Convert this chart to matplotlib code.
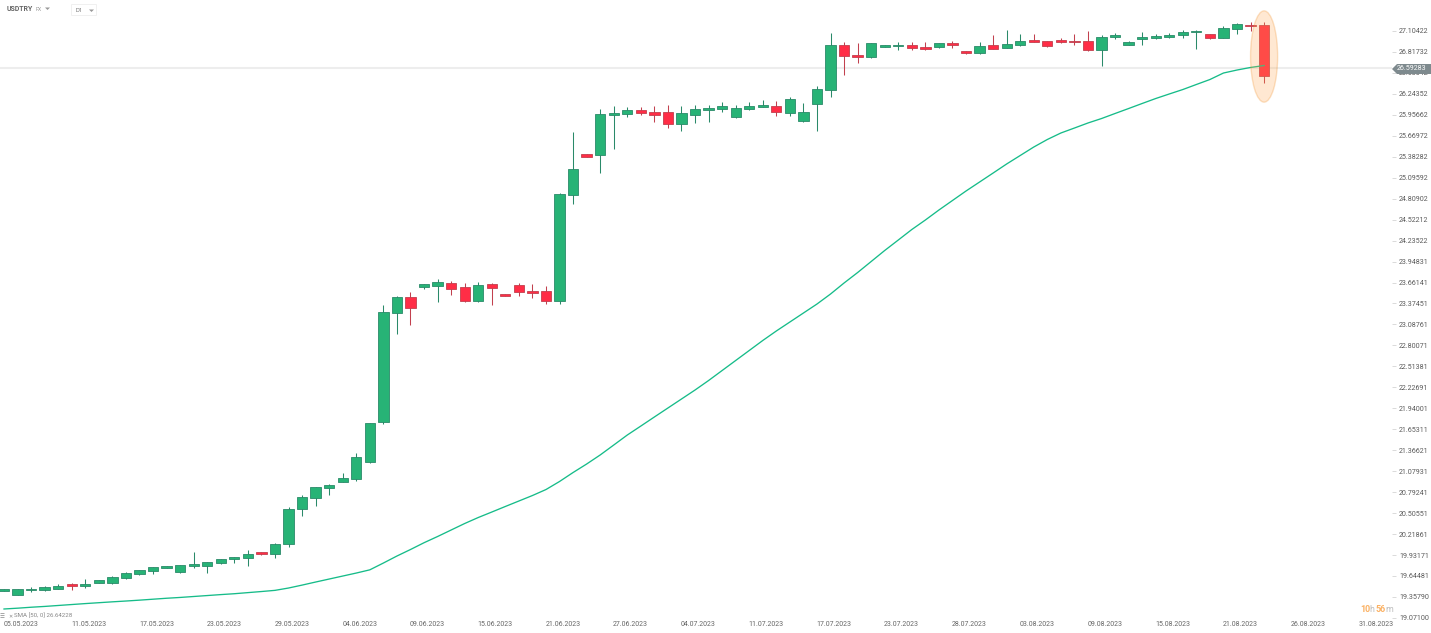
import matplotlib
matplotlib.use("Agg")
import matplotlib.pyplot as plt
from matplotlib.patches import Ellipse, Rectangle, Polygon

plt.rcParams["font.family"] = "Roboto"

opens = [19.443,19.388,19.453,19.453,19.466,19.535,19.511,19.552,19.552,19.617,
 19.676,19.717,19.758,19.695,19.785,19.785,19.818,19.877,19.895,19.968,
 19.949,20.078,20.557,20.712,20.845,20.935,20.972,21.209,21.756,23.244,
 23.463,23.596,23.618,23.655,23.600,23.408,23.637,23.504,23.627,23.545,
 23.545,23.408,24.863,25.416,25.411,25.954,25.968,26.019,25.995,26.000,
 25.831,25.954,26.023,26.032,25.931,26.032,26.068,26.078,25.978,25.868,
 26.109,26.301,26.917,26.776,26.752,26.889,26.899,26.917,26.885,26.881,
 26.940,26.830,26.807,26.908,26.876,26.917,26.981,26.967,26.981,26.971,
 26.971,26.840,27.026,26.917,26.991,27.012,27.026,27.054,27.086,27.063,
 27.012,27.136,27.190,27.190]
closes = [19.470,19.470,19.470,19.489,19.507,19.511,19.535,19.585,19.635,19.689,
 19.726,19.763,19.777,19.791,19.805,19.832,19.873,19.900,19.941,19.945,
 20.078,20.557,20.721,20.858,20.886,20.982,21.269,21.739,23.258,23.463,
 23.317,23.637,23.664,23.577,23.408,23.632,23.586,23.477,23.532,23.522,
 23.408,24.873,25.211,25.379,25.968,25.982,26.019,25.982,25.954,25.831,
 25.978,26.037,26.054,26.073,26.046,26.078,26.091,25.995,26.169,25.995,
 26.310,26.917,26.766,26.752,26.936,26.913,26.917,26.876,26.862,26.936,
 26.917,26.807,26.895,26.862,26.930,26.967,26.958,26.903,26.958,26.949,
 26.840,27.022,27.049,26.949,27.026,27.036,27.049,27.086,27.104,27.012,
 27.141,27.196,27.173,26.492]
highs = [19.470,19.470,19.498,19.507,19.535,19.544,19.599,19.590,19.641,19.699,
 19.730,19.768,19.784,19.795,19.969,19.836,19.877,19.904,20.000,19.977,
 20.092,20.585,20.753,20.865,20.904,21.050,21.332,21.743,23.354,23.477,
 23.527,23.641,23.710,23.682,23.651,23.668,23.651,23.507,23.655,23.641,
 23.614,24.880,25.722,25.421,26.037,26.078,26.060,26.060,26.078,26.091,
 26.073,26.091,26.091,26.128,26.091,26.128,26.160,26.146,26.197,26.115,
 26.351,27.081,26.949,26.936,26.940,26.915,26.949,26.949,26.949,26.944,
 26.967,26.833,26.954,27.049,27.118,27.063,27.063,26.970,27.004,27.063,
 27.104,27.049,27.081,26.967,27.090,27.059,27.073,27.118,27.118,27.066,
 27.173,27.210,27.223,27.223]
lows = [19.443,19.388,19.421,19.439,19.466,19.453,19.484,19.548,19.539,19.610,
 19.658,19.672,19.754,19.692,19.758,19.685,19.815,19.818,19.785,19.938,
 19.895,20.045,20.466,20.602,20.753,20.931,20.949,21.195,21.725,22.957,
 23.080,23.577,23.395,23.491,23.401,23.401,23.354,23.474,23.477,23.445,
 23.371,23.371,24.736,25.377,25.156,25.485,25.923,25.958,25.863,25.781,
 25.735,25.845,25.859,25.995,25.913,26.023,26.064,25.941,25.945,25.865,
 25.740,26.201,26.502,26.666,26.735,26.885,26.848,26.844,26.840,26.871,
 26.876,26.785,26.785,26.859,26.873,26.899,26.955,26.889,26.944,26.917,
 26.830,26.629,26.999,26.913,26.917,26.991,27.008,27.008,26.858,26.991,
 27.008,27.059,27.108,26.388]
sma = [19.193,19.204,19.217,19.228,19.241,19.254,19.267,19.279,19.291,19.302,
 19.314,19.327,19.340,19.351,19.364,19.377,19.390,19.402,19.417,19.432,
 19.448,19.480,19.520,19.562,19.603,19.644,19.685,19.729,19.822,19.918,
 20.007,20.100,20.185,20.274,20.363,20.445,20.520,20.596,20.671,20.746,
 20.828,20.938,21.061,21.177,21.301,21.437,21.574,21.697,21.821,21.944,
 22.067,22.190,22.320,22.457,22.594,22.731,22.868,22.998,23.121,23.244,
 23.367,23.504,23.655,23.798,23.949,24.100,24.243,24.387,24.517,24.654,
 24.784,24.914,25.037,25.160,25.284,25.400,25.516,25.619,25.708,25.776,
 25.845,25.906,25.975,26.043,26.112,26.180,26.242,26.303,26.372,26.440,
 26.529,26.570,26.605,26.632]
price_ticks = ["27.10422","26.81732","26.53042","26.24352","25.95662","25.66972","25.38282",
 "25.09592","24.80902","24.52212","24.23522","23.94831","23.66141","23.37451","23.08761",
 "22.80071","22.51381","22.22691","21.94001","21.65311","21.36621","21.07931","20.79241",
 "20.50551","20.21861","19.93171","19.64481","19.35790","19.07100"]
date_labels = ["05.05.2023","11.05.2023","17.05.2023","23.05.2023","29.05.2023","04.06.2023",
 "09.06.2023","15.06.2023","21.06.2023","27.06.2023","04.07.2023","11.07.2023","17.07.2023",
 "23.07.2023","28.07.2023","03.08.2023","09.08.2023","15.08.2023","21.08.2023","26.08.2023",
 "31.08.2023"]
date_positions = [1.25,6.25,11.25,16.25,21.25,26.25,31.25,36.25,41.25,46.25,51.25,56.25,61.25,
 66.25,71.25,76.25,81.25,86.25,91.25,96.25,101.25]
last_price = 26.59283

W, H = 1431, 633
fig = plt.figure(figsize=(W/100, H/100), dpi=100, facecolor="white")
ax = fig.add_axes([0, 1-619/H, 1392/W, 619/H])
ax.set_xlim(-0.295, 102.44)
ax.set_ylim(19.056, 27.5285)
for s in ax.spines.values():
    s.set_visible(False)

GREEN, GREEN_D = "#27B376", "#2A8A69"
RED, RED_D = "#FF2D46", "#C2404E"
idx = range(len(opens))
ax.axhline(last_price, color="#EDEDED", lw=1.5, zorder=1)
for i in idx:
    up = closes[i] >= opens[i]
    ax.vlines(i, lows[i], highs[i], color=GREEN_D if up else RED_D, lw=0.75, zorder=2)
    ax.bar(i, abs(closes[i]-opens[i]), bottom=min(opens[i], closes[i]), width=0.76,
           color=GREEN if up else RED, edgecolor=GREEN_D if up else RED_D, linewidth=0.6, zorder=3)
ax.plot(list(idx), sma, color="#16BC89", lw=0.95, zorder=4)
ax.add_patch(Ellipse((93, 26.755), 2.0, 1.25, facecolor="#FFA64D", edgecolor="#F08A1E",
                     alpha=0.25, lw=1.0, zorder=5))

ax.yaxis.tick_right()
ax.set_yticks([float(t) for t in price_ticks])
ax.set_yticklabels(price_ticks)
ax.tick_params(axis="y", length=3, width=0.6, color="#D5D5D5", pad=2, labelsize=5.1, labelcolor="#5A5A5A")
ax.set_xticks(date_positions)
ax.set_xticklabels(date_labels)
ax.tick_params(axis="x", length=0, pad=1.2, labelsize=5.0, labelcolor="#666666")

def px(x, y):
    return x/W, 1-y/H

# last price tag
fig.add_artist(Polygon([px(1392,69), px(1397,64), px(1431,64), px(1431,74), px(1397,74)],
                       closed=True, transform=fig.transFigure, facecolor="#7E8A8E", edgecolor="none", zorder=6))
fig.text(*px(1397,69), f"{last_price:.5f}", color="white", fontsize=5.1, va="center", ha="left", zorder=7)

# header
fig.text(*px(7,9), "USDTRY", color="#666666", fontsize=5.0, fontweight="bold", va="center")
fig.text(*px(36,9.5), "FX", color="#999999", fontsize=3.8, va="center")
fig.add_artist(Polygon([px(45,7.5), px(50,7.5), px(47.5,10)], closed=True, transform=fig.transFigure,
                       facecolor="#999999", edgecolor="none"))
fig.add_artist(Rectangle(px(71,15), 25/W, 11/H, transform=fig.transFigure, facecolor="white",
                         edgecolor="#EEEEEE", lw=0.6))
fig.text(*px(75,10.5), "D1", color="#777777", fontsize=4.2, va="center")
fig.add_artist(Polygon([px(89,9.5), px(94,9.5), px(91.5,12)], closed=True, transform=fig.transFigure,
                       facecolor="#999999", edgecolor="none"))

# indicator legend
fig.text(*px(0,616), "☰", color="#888888", fontsize=4, va="center", family="DejaVu Sans")
fig.text(*px(8,616), "✕", color="#888888", fontsize=3.6, va="center", family="DejaVu Sans")
fig.text(*px(14,616), "SMA [50, 0] 26.64228", color="#888888", fontsize=4.4, va="center")

# countdown
for x, s, c, w in [(1360,"10","#FBB163","bold"),(1369,"h","#BDBDBD","normal"),
                   (1376,"56","#FBB163","bold"),(1385.5,"m","#BDBDBD","normal")]:
    fig.text(*px(x,609), s, color=c, fontsize=6.4, fontweight=w, va="center")

fig.savefig("out.png", dpi=100, facecolor="white")
